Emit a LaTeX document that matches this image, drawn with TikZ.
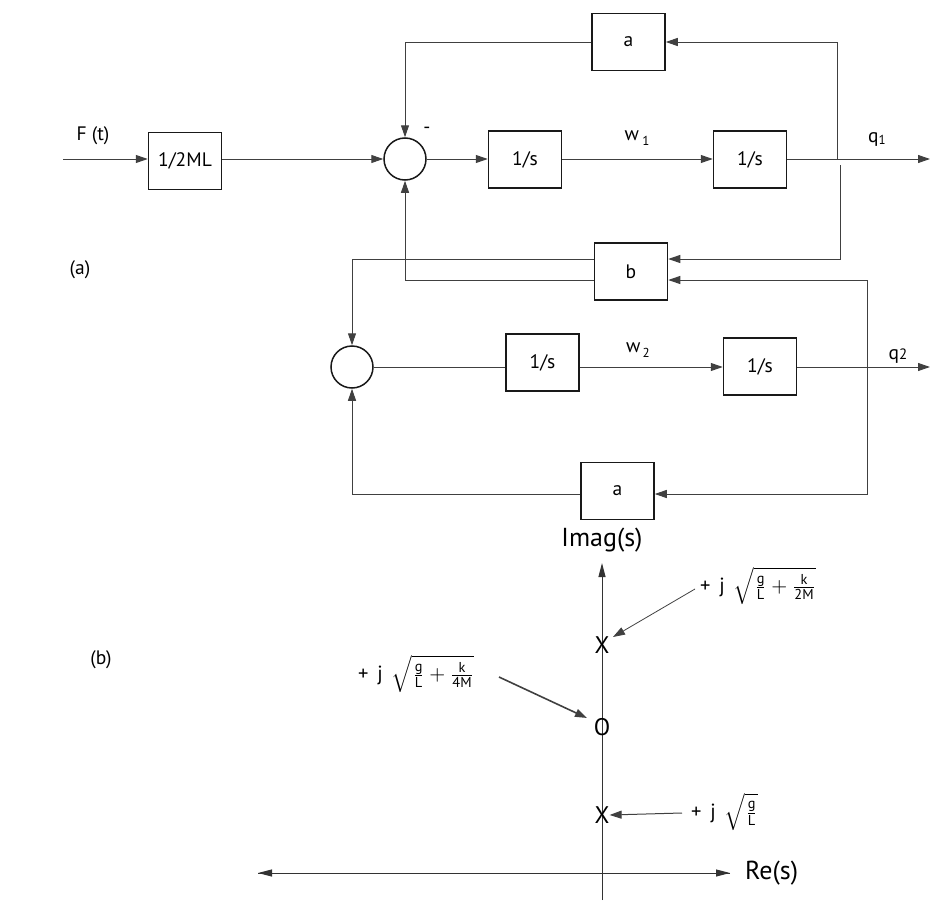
\documentclass[tikz,border=0pt]{standalone}
\usepackage{graphicx}
\usepackage{fontspec}
\setmainfont{PT Sans}
\setsansfont{PT Sans}
\usetikzlibrary{arrows.meta}
\newcommand{\bigmath}[1]{\scalebox{2.05}{\fontsize{10}{12}\selectfont #1}}
\begin{document}
\begin{tikzpicture}[x=1pt,y=-1pt,
  blk/.style={draw=black!90,line width=1.5pt,minimum width=73pt,minimum height=57pt,inner sep=0pt,font=\fontsize{19.5}{23}\selectfont},
  sumc/.style={draw=black!90,line width=1.5pt,circle,minimum size=42pt,inner sep=0pt},
  conn/.style={draw=black!75,line width=1pt},
  arr/.style={conn,-{Triangle[length=12pt,width=8pt]}},
  axarr/.style={draw=black!80,line width=1pt,-{Triangle[length=14pt,width=7pt]}},
  lbl/.style={font=\fontsize{19.5}{23}\selectfont,inner sep=0pt},
  mlbl/.style={inner sep=0pt},
  mk/.style={font=\fontsize{24}{28}\selectfont,inner sep=0pt},
  ax/.style={font=\fontsize{26}{30}\selectfont,inner sep=0pt}]
\useasboundingbox (0,0) rectangle (930,902);
% ---------- (a) block diagram ----------
\node[blk] (bML) at (185,161) {1/2ML};
\node[sumc] (s1) at (405,159) {};
\node[blk] (i1) at (525,159.5) {1/s};
\node[blk] (i2) at (750,159.5) {1/s};
\node[blk] (a1) at (628.5,42) {a};
\node[blk] (b) at (631,271.5) {b};
\node[sumc] (s2) at (352,367) {};
\node[blk] (i3) at (542.5,362.5) {1/s};
\node[blk] (i4) at (760,366.5) {1/s};
\node[blk] (a2) at (617.5,491) {a};
\coordinate (in) at (63,159);
\coordinate (out1) at (930,159);
\coordinate (out2) at (930,367);
\coordinate (p1) at (837,159);
\coordinate (p2) at (840,165);
\coordinate (p3) at (867,367);
\node[lbl] (Ft) at (93,136) {F (t)};
\node[lbl] (minus) at (427,130) {-};
\node[lbl] (w1) at (637,138) {w\,\raisebox{-0.45ex}{\fontsize{13}{15}\selectfont 1}};
\node[lbl] (q1) at (877,139) {q\raisebox{-0.3ex}{\fontsize{13}{15}\selectfont 1}};
\node[lbl] (w2) at (638,350) {w\raisebox{-0.45ex}{\fontsize{13}{15}\selectfont \,2}};
\node[lbl] (q2) at (898,356) {q\raisebox{-0.1ex}{\fontsize{15}{17}\selectfont 2}};
\node[lbl] (la) at (80,270) {(a)};
\node[lbl] (lb) at (101,660) {(b)};
\draw[arr] (in) -- (in -| bML.west);
\draw[arr] (bML.east |- s1) -- (s1.west);
\draw[arr] (s1.east) -- (s1.east -| i1.west);
\draw[arr] (i1.east |- s1) -- (i2.west |- s1);
\draw[arr] (i2.east |- s1) -- (out1);
\draw[arr] (p1) |- (a1.east);
\draw[arr] (a1.west) -| (s1.north);
\draw[arr] (p2) |- ([yshift=12.5pt]b.east);
\draw[arr] ([yshift=12.5pt]b.west) -| (s2.north);
\draw[arr] ([yshift=-8.5pt]b.west) -| (s1.south);
\draw[conn] (s2.east) -- (s2.east -| i3.west);
\draw[arr] (i3.east |- s2) -- (i4.west |- s2);
\draw[arr] (i4.east |- s2) -- (out2);
\draw[arr] (p3) |- ([yshift=-8.5pt]b.east);
\draw[arr] (p3) |- ([yshift=-3pt]a2.east);
\draw[arr] ([yshift=-3pt]a2.west) -| (s2.south);
% ---------- (b) pole-zero plot ----------
\coordinate (ytop) at (602,563);
\coordinate (ybot) at (602,900);
\coordinate (xl) at (258,873);
\coordinate (xr) at (730,873);
\draw[axarr] (ybot) -- (ytop);
\draw[axarr] (xl) -- (xr);
\draw[axarr] (xr) -- (xl);
\node[ax] (imag) at (602,540) {Imag(s)};
\node[ax,anchor=west] (re) at (745,873) {Re(s)};
\node[mk] (X1) at (602,645) {X};
\node[mk] (O) at (602,727) {O};
\node[mk] (X2) at (602,815) {X};
\node[mlbl,anchor=west] (L1) at (700,586) {\bigmath{+ \,j\, $\sqrt{\frac{\mathrm{g}}{\mathrm{L}}+\frac{\mathrm{k}}{\mathrm{2M}}}$}};
\node[mlbl,anchor=west] (L2) at (358,674) {\bigmath{+ \,j\, $\sqrt{\frac{\mathrm{g}}{\mathrm{L}}+\frac{\mathrm{k}}{\mathrm{4M}}}$}};
\node[mlbl,anchor=west] (L3) at (691,812) {\bigmath{+ \,j\, $\sqrt{\frac{\mathrm{g}}{\mathrm{L}}}$}};
\coordinate (a1s) at (695,589);
\coordinate (a2s) at (499,677);
\coordinate (a3s) at (682,813);
\draw[arr,line width=0.8pt] (a1s) -- (613,637);
\draw[arr,line width=1.6pt] (a2s) -- (587,718);
\draw[arr] (a3s) -- (X2.east);
\end{tikzpicture}
\end{document}
